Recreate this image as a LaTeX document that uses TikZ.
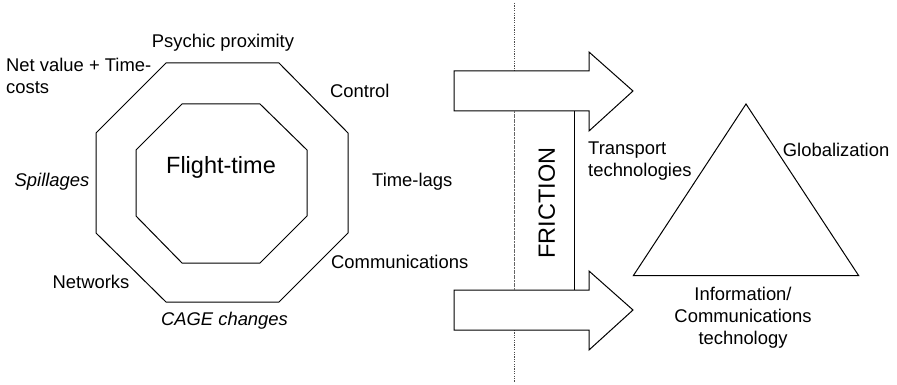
\documentclass[tikz,border=0pt]{standalone}
\usepackage{fontspec}
\setmainfont{Liberation Sans}
\begin{document}
\begin{tikzpicture}[x=1pt,y=-1pt,
  shape line/.style={draw=black,line width=1pt,line join=miter},
  label text/.style={inner sep=0pt,font=\fontsize{18.4}{22}\selectfont},
  big text/.style={inner sep=0pt,font=\fontsize{23.5}{28}\selectfont},
  divider/.style={draw=black!70,line width=1pt,dash pattern=on 1.2pt off 1.2pt},
  band edge/.style={draw=black!60,line width=1pt,dash pattern=on 2pt off 0.6pt},
  fat arrow/.style={shape line,fill=white}]
\useasboundingbox (0,0) rectangle (897,385);

% dotted divider, above and below the arrows
\draw[divider] (514,3) -- (514,71);
\draw[divider] (514,330) -- (514,382);

% outer and inner octagons
\draw[shape line] (166,63) -- (279,63) -- (348,133) -- (348,233) -- (279,302)
  -- (166,302) -- (96,233) -- (96,133) -- cycle;
\draw[shape line] (182,104) -- (260,104) -- (307,150) -- (307,216) -- (260,263)
  -- (182,263) -- (136,216) -- (136,150) -- cycle;

% block arrows and the friction band between them
\draw[fat arrow] (454,71) -- (589,71) -- (589,52) -- (633,91) -- (589,131)
  -- (589,111) -- (454,111) -- cycle;
\draw[fat arrow] (454,290) -- (589,290) -- (589,271) -- (633,310) -- (589,350)
  -- (589,330) -- (454,330) -- cycle;
\coordinate (bandtop) at (574,111);
\coordinate (bandbot) at (574,290);
\coordinate (bandtopleft) at (514,111);
\coordinate (bandbotleft) at (514,290);
\draw[shape line] (bandtop) -- (bandbot);
\draw[band edge] (bandtopleft) -- (bandbotleft);

% triangle
\draw[shape line] (746,104) -- (858.7,275.7) -- (633.3,275.7) -- cycle;

% texts
\node[big text] (flight) at (221,167) {Flight-time};
\node[big text,rotate=90] (friction) at (546.7,203) {FRICTION};
\node[label text] (psychic) at (223,43) {Psychic proximity};
\node[label text,anchor=west,align=left] (netvalue) at (6,76) {Net value + Time-\\costs};
\node[label text,anchor=west] (control) at (330,91) {Control};
\node[label text,anchor=west] (timelags) at (372,182) {Time-lags};
\node[label text,anchor=west] (comms) at (331,262) {Communications};
\node[label text] (spill) at (52,182) {\itshape Spillages};
\node[label text] (networks) at (91,282) {Networks};
\node[label text] (cage) at (224.5,321) {\itshape CAGE changes};
\node[label text,anchor=west,align=left] (transport) at (588,161) {Transport\\technologies};
\node[label text,anchor=west] (global) at (782.7,150) {Globalization};
\node[label text,align=center] (ict) at (743,317.5) {Information/\\Communications\\technology};
\end{tikzpicture}
\end{document}
